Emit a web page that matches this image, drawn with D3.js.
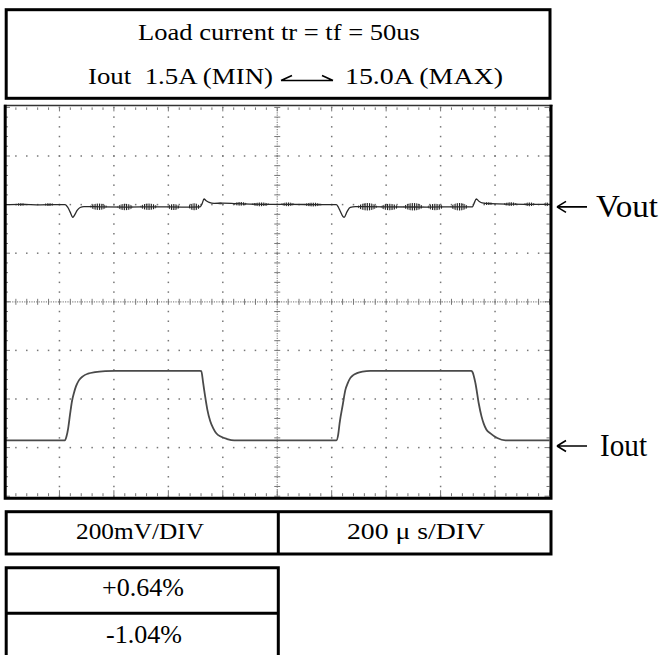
<!DOCTYPE html>
<html>
<head>
<meta charset="utf-8">
<script src="https://cdn.jsdelivr.net/npm/d3@7/dist/d3.min.js"></script>
<style>
  body { margin: 0; background: #fff; }
  svg { display: block; }
  text { font-family: "Liberation Serif", "Times New Roman", serif; fill: #000; white-space: pre; }
</style>
</head>
<body>
<svg id="chart" width="663" height="655"></svg>
<script>
// ---- Texts ----
const headerLine1 = "Load current tr = tf = 50us";
const headerLeft = "Iout  1.5A (MIN)";
const headerRight = "15.0A (MAX)";
const scaleLabels = ["200mV/DIV", "200 \u03bc s/DIV"];
const deviationLabels = ["+0.64%", "-1.04%"];
const traceLabels = ["Vout", "Iout"];

// ---- Screen settings ----
const timePerDiv = 200;   // µs per division
const voltPerDiv = 200;   // mV per division
const hDivs = 10, vDivs = 8, minorPerDiv = 5;
const voutOffsetDiv = 2;      // Vout nominal level, divisions above centre
const ioutLowDiv = -2.85;     // 1.5 A level, divisions from centre
const ampPerDiv = 9.45;       // Iout channel sensitivity

// ---- Vout deviation from nominal (mV) vs time (µs) ----
const voutTime = [0, 60, 130, 200, 221, 231, 239, 249, 257, 265, 276, 290, 350, 450, 550, 650, 717,
  724, 731, 739, 750, 768, 800, 850, 950, 1050, 1150, 1217, 1224, 1231, 1242, 1246, 1256, 1268, 1287,
  1400, 1550, 1650, 1717, 1724, 1731, 1742, 1753, 1783, 1860, 1950, 2000];
const voutMv = [0, 1, -1, 0, 0, -12, -30, -52, -40, -24, -12, -8, -9, -10, -9, -10, -9,
  4, 23, 16, 9, 5, 6, 4, 1, 1, 0, 0, -10, -26, -50, -52, -30, -11, -8,
  -9, -10, -9, -9, 8, 23, 13, 7, 4, 2, 1, 1];

// ---- Switching ripple bursts on Vout: start/end (µs), centre level (mV), half amplitude (mV) ----
const rippleStart = [37, 140, 312, 412, 496, 596, 673, 783, 838, 905, 1011, 1096, 1294, 1379, 1463, 1551, 1636, 1757, 1831, 1904, 1978];
const rippleEnd   = [81, 184, 375, 471, 559, 643, 717, 798, 890, 974, 1066, 1165, 1368, 1445, 1537, 1610, 1702, 1794, 1882, 1949, 2000];
const rippleLevel = [0, 0, -9, -10, -9, -10, -9, 5, 3, 1, 1, 0, -9, -10, -9, -10, -9, 4, 2, 1, 1];
const rippleAmp   = [6, 6, 14, 14, 14, 13, 15, 5, 8, 8, 8, 8, 16, 14, 16, 14, 16, 6, 8, 8, 8];

// ---- Iout (A) vs time (µs) ----
const ioutTime = [0, 220, 226, 232, 239, 246, 254, 261, 272, 287, 305, 331, 368, 404, 716, 721, 728, 735, 743,
  754, 765, 776, 794, 816, 842, 1217, 1224, 1229, 1241, 1250, 1259, 1268, 1279, 1293, 1313, 1342, 1712,
  1717, 1728, 1740, 1750, 1758, 1768, 1783, 1808, 1838, 2000];
const ioutAmp = [1.5, 1.5, 2.28, 3.84, 6.57, 9.10, 10.86, 12.03, 13.20, 13.98, 14.46, 14.76, 14.95, 15.0, 15.0, 14.95, 12.6, 10.07, 7.53,
  5.19, 3.83, 2.86, 2.18, 1.75, 1.5, 1.5, 2.67, 4.81, 8.52, 11.25, 12.61, 13.59, 14.17, 14.56, 14.85, 15.0, 15.0,
  14.8, 12.6, 8.7, 6.2, 4.8, 3.6, 2.86, 1.95, 1.5, 1.5];

// ---- Layout ----
const svg = d3.select("#chart");
const x = d3.scaleLinear().domain([0, hDivs * timePerDiv]).range([5, 549.5]);
const yDiv = d3.scaleLinear().domain([-vDivs / 2, vDivs / 2]).range([496.2, 107.4]);
const yV = mv => yDiv(voutOffsetDiv + mv / voltPerDiv);
const yI = a => yDiv(ioutLowDiv + (a - 1.5) / ampPerDiv);

const defs = svg.append("defs");
const pat = defs.append("pattern").attr("id", "ripple").attr("patternUnits", "userSpaceOnUse")
  .attr("width", 1.8).attr("height", 6);
pat.append("rect").attr("width", 0.9).attr("height", 6).attr("fill", "#151515");

// ---- Header box ----
svg.append("rect").attr("x", 6.2).attr("y", 9.7).attr("width", 543.8).attr("height", 88.6)
  .attr("fill", "none").attr("stroke", "#000").attr("stroke-width", 3);

// text placed from its left edge and horizontally scaled to the given width
function label(s, x0, baseline, size, width) {
  const t = svg.append("text").attr("font-size", size).text(s);
  const natural = t.node().getComputedTextLength();
  t.attr("transform", `translate(${x0},${baseline}) scale(${width / natural},1)`);
}
label(headerLine1, 138, 39.5, 23, 282);
label(headerLeft, 88, 83.5, 23, 185);
label(headerRight, 345, 83.5, 23, 158);
// double-ended harpoon between MIN and MAX
svg.append("path")
  .attr("d", "M281,80.5 L333,80.5 M281,80.5 L292,75.5 M333,80.5 L322,75.5")
  .attr("fill", "none").attr("stroke", "#000").attr("stroke-width", 1.6);

// ---- Screen grid ----
const grid = svg.append("g");
const minorX = d3.range(0, hDivs * minorPerDiv + 1).map(i => x(i * timePerDiv / minorPerDiv));
const minorY = d3.range(0, vDivs * minorPerDiv + 1).map(j => yDiv(-vDivs / 2 + j / minorPerDiv));
const majorX = d3.range(1, hDivs).filter(i => i !== hDivs / 2).map(i => x(i * timePerDiv));
const majorY = d3.range(1, vDivs).filter(j => j !== vDivs / 2).map(j => yDiv(-vDivs / 2 + j));
const dotCol = "#777";

majorX.forEach(px => minorY.forEach(py =>
  grid.append("rect").attr("x", px - 0.75).attr("y", py - 0.75).attr("width", 1.5).attr("height", 1.5).attr("fill", dotCol)));
majorY.forEach(py => minorX.forEach(px =>
  grid.append("rect").attr("x", px - 0.75).attr("y", py - 0.75).attr("width", 1.5).attr("height", 1.5).attr("fill", dotCol)));

// centre crosshair with minor ticks
const cx = x(hDivs / 2 * timePerDiv), cy = yDiv(0);
grid.append("line").attr("x1", x.range()[0]).attr("x2", x.range()[1]).attr("y1", cy).attr("y2", cy)
  .attr("stroke", "#8a8a8a").attr("stroke-width", 1.2).attr("stroke-dasharray", "1.2,1.2");
grid.append("line").attr("y1", yDiv.range()[1]).attr("y2", yDiv.range()[0]).attr("x1", cx).attr("x2", cx)
  .attr("stroke", "#8a8a8a").attr("stroke-width", 1.2).attr("stroke-dasharray", "1.2,1.2");
minorX.forEach(px => grid.append("line").attr("x1", px).attr("x2", px).attr("y1", cy - 3).attr("y2", cy + 3)
  .attr("stroke", "#777").attr("stroke-width", 1));
minorY.forEach(py => grid.append("line").attr("y1", py).attr("y2", py).attr("x1", cx - 3).attr("x2", cx + 3)
  .attr("stroke", "#777").attr("stroke-width", 1));

// edge ticks
const edgeTop = yDiv.range()[1], edgeBottom = yDiv.range()[0];
const edgeLeft = x.range()[0], edgeRight = x.range()[1];
minorX.forEach((px, i) => {
  const major = i % minorPerDiv === 0;
  grid.append("line").attr("x1", px).attr("x2", px).attr("y1", edgeTop).attr("y2", edgeTop + (major ? 4 : 2.5))
    .attr("stroke", "#777").attr("stroke-width", 1);
  grid.append("line").attr("x1", px).attr("x2", px).attr("y1", edgeBottom).attr("y2", edgeBottom - (major ? 6 : 3))
    .attr("stroke", "#777").attr("stroke-width", 1);
});
minorY.forEach((py, j) => {
  const major = j % minorPerDiv === 0;
  grid.append("line").attr("y1", py).attr("y2", py).attr("x1", edgeLeft).attr("x2", edgeLeft + (major ? 5 : 3))
    .attr("stroke", "#777").attr("stroke-width", 1);
  grid.append("line").attr("y1", py).attr("y2", py).attr("x1", edgeRight).attr("x2", edgeRight - (major ? 5 : 3))
    .attr("stroke", "#777").attr("stroke-width", 1);
});

// ---- Traces ----
const lineGen = d3.line().x(d => x(d[0])).y(d => d[1]).curve(d3.curveMonotoneX);
const ioutPts = ioutTime.map((t, i) => [t, yI(ioutAmp[i])]);
svg.append("path").attr("d", lineGen(ioutPts)).attr("fill", "none")
  .attr("stroke", "#4a4a4a").attr("stroke-width", 1.8);

rippleStart.forEach((t0, i) => {
  const x0 = x(t0), x1 = x(rippleEnd[i]);
  const yc = yV(rippleLevel[i]);
  const a = yc - yV(rippleLevel[i] + rippleAmp[i]);
  const d = `M${x0},${yc} C${x0 + (x1 - x0) * 0.2},${yc - a * 1.3} ${x1 - (x1 - x0) * 0.2},${yc - a * 1.3} ${x1},${yc}` +
            ` C${x1 - (x1 - x0) * 0.2},${yc + a * 1.3} ${x0 + (x1 - x0) * 0.2},${yc + a * 1.3} ${x0},${yc}Z`;
  svg.append("path").attr("d", d).attr("fill", "url(#ripple)");
});
const voutPts = voutTime.map((t, i) => [t, yV(voutMv[i])]);
svg.append("path").attr("d", lineGen(voutPts)).attr("fill", "none")
  .attr("stroke", "#2a2a2a").attr("stroke-width", 1.3);

// ---- Screen frame ----
svg.append("line").attr("x1", 4).attr("x2", 552.5).attr("y1", 105.5).attr("y2", 105.5)
  .attr("stroke", "#333").attr("stroke-width", 1.5);
svg.append("path").attr("d", "M5.2,104.7 V498.2 H551 V104.7")
  .attr("fill", "none").attr("stroke", "#000").attr("stroke-width", 3);

// ---- Trace markers ----
const markerY = [yV(0) + 2.3, 446];
traceLabels.forEach((s, i) => {
  const ay = markerY[i];
  svg.append("path").attr("d", `M557,${ay} H587 M557,${ay} l9,-5.5 M557,${ay} l9,5.5`)
    .attr("fill", "none").attr("stroke", "#000").attr("stroke-width", 1.6);
});
label(traceLabels[0], 596, 217, 31, 62);
label(traceLabels[1], 600, 456, 31, 47);

// ---- Settings table ----
svg.append("rect").attr("x", 6.2).attr("y", 511.7).attr("width", 544.8).attr("height", 42.3)
  .attr("fill", "none").attr("stroke", "#000").attr("stroke-width", 3);
svg.append("line").attr("x1", 278.3).attr("x2", 278.3).attr("y1", 511.7).attr("y2", 554)
  .attr("stroke", "#000").attr("stroke-width", 3);
label(scaleLabels[0], 76, 539, 24, 128);
label(scaleLabels[1], 347, 539, 24, 138);

// ---- Deviation table ----
svg.append("path").attr("d", "M6.2,662 V567.7 H278.3 V662 M6.2,613.3 H278.3")
  .attr("fill", "none").attr("stroke", "#000").attr("stroke-width", 3);
label(deviationLabels[0], 102, 596, 25, 82);
label(deviationLabels[1], 106, 643, 25, 76);
</script>
</body>
</html>
